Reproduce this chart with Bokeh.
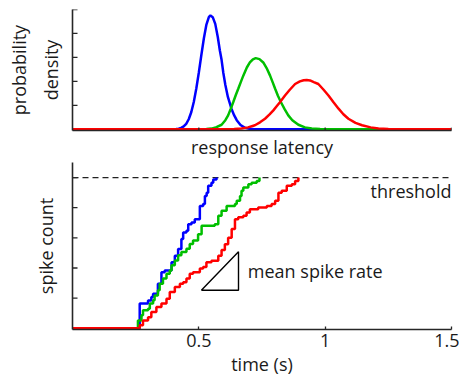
import math
from bokeh.plotting import figure
from bokeh.models import Range1d, FixedTicker, Label
from bokeh.layouts import column
from bokeh.embed import file_html
from bokeh.resources import INLINE

# ---------------- data: response-latency densities (top panel) ----------------
blue_lat = [0, 0.40, 0.41, 0.42, 0.43, 0.44, 0.45, 0.46, 0.47, 0.48, 0.49, 0.50, 0.51, 0.52, 0.53,
            0.54, 0.546, 0.555, 0.565, 0.575, 0.583, 0.59, 0.597, 0.605, 0.615, 0.629, 0.64, 0.65,
            0.665, 0.683, 0.70, 0.72, 1.5]
blue_dens = [0, 0.0, 0.01, 0.026, 0.057, 0.12, 0.23, 0.42, 0.71, 1.14, 1.70, 2.37, 3.10, 3.80, 4.37,
             4.69, 4.75, 4.68, 4.40, 3.85, 3.30, 2.90, 2.35, 1.85, 1.35, 0.86, 0.58, 0.38,
             0.18, 0.06, 0.02, 0.0, 0]

green_lat = [0, 0.50, 0.53, 0.55, 0.57, 0.59, 0.605, 0.616, 0.626, 0.636, 0.646, 0.656, 0.666, 0.676,
             0.69, 0.702, 0.714, 0.725, 0.74, 0.755, 0.77, 0.782, 0.792, 0.802, 0.813, 0.825, 0.84,
             0.854, 0.87, 0.894, 0.92, 0.947, 0.98, 1.02, 1.5]
green_dens = [0, 0.0, 0.01, 0.03, 0.09, 0.19, 0.38, 0.58, 0.85, 1.13, 1.42, 1.69, 1.97, 2.24,
              2.58, 2.79, 2.92, 2.97, 2.93, 2.79, 2.52, 2.24, 1.97, 1.69, 1.40, 1.13, 0.83,
              0.58, 0.38, 0.19, 0.08, 0.03, 0.01, 0.0, 0]

red_lat = [0, 0.60, 0.64, 0.669, 0.695, 0.722, 0.742, 0.762, 0.78, 0.795, 0.808, 0.821, 0.841, 0.86,
           0.881, 0.90, 0.915, 0.927, 0.94, 0.955, 0.973, 0.993, 1.013, 1.033, 1.053, 1.072, 1.092,
           1.12, 1.146, 1.18, 1.211, 1.25, 1.29, 1.5]
red_dens = [0, 0.0, 0.01, 0.03, 0.08, 0.17, 0.29, 0.44, 0.62, 0.79, 0.96, 1.13, 1.41, 1.65,
            1.89, 2.00, 2.05, 2.06, 2.04, 1.97, 1.89, 1.66, 1.41, 1.13, 0.86, 0.63, 0.44,
            0.27, 0.17, 0.08, 0.03, 0.01, 0.0, 0]

# ---------------- data: accumulated spike counts (bottom panel) ----------------
blue_t = [0, 0.253, 0.266, 0.288, 0.299, 0.312, 0.319, 0.338, 0.352, 0.365, 0.392, 0.405, 0.418,
          0.431, 0.438, 0.451, 0.458, 0.471, 0.484, 0.497, 0.504, 0.517, 0.524, 0.531, 0.537,
          0.550, 0.557, 0.570]
blue_count = [0, 0, 0.82, 0.82, 0.92, 1.04, 1.15, 1.48, 1.86, 1.92, 2.19, 2.41, 2.63,
              2.96, 3.18, 3.24, 3.45, 3.51, 3.62, 3.62, 4.06, 4.12, 4.39, 4.50, 4.73,
              4.83, 4.94, 5.0]

green_t = [0, 0.25, 0.259, 0.273, 0.279, 0.299, 0.306, 0.319, 0.325, 0.338, 0.345, 0.358, 0.372,
           0.385, 0.392, 0.405, 0.418, 0.431, 0.451, 0.464, 0.477, 0.497, 0.511, 0.563, 0.577,
           0.590, 0.610, 0.643, 0.650, 0.663, 0.669, 0.676, 0.696, 0.709, 0.729, 0.740]
green_count = [0, 0, 0.26, 0.43, 0.60, 0.65, 0.82, 0.93, 1.09, 1.26, 1.48, 1.65, 1.81,
               1.92, 2.09, 2.25, 2.42, 2.53, 2.64, 2.80, 2.91, 3.12, 3.40, 3.45, 3.73,
               3.90, 4.06, 4.12, 4.23, 4.39, 4.56, 4.67, 4.78, 4.83, 4.89, 5.0]

red_t = [0, 0.25, 0.266, 0.279, 0.299, 0.312, 0.332, 0.352, 0.372, 0.385, 0.405, 0.425, 0.438,
         0.451, 0.464, 0.477, 0.504, 0.517, 0.530, 0.550, 0.577, 0.590, 0.603, 0.616, 0.630,
         0.643, 0.656, 0.676, 0.689, 0.702, 0.735, 0.769, 0.788, 0.802, 0.815, 0.828, 0.848,
         0.868, 0.881, 0.894]
red_count = [0, 0, 0.10, 0.26, 0.37, 0.54, 0.71, 0.82, 0.98, 1.20, 1.37, 1.48, 1.53,
             1.65, 1.81, 1.86, 1.98, 2.03, 2.19, 2.24, 2.41, 2.60, 2.79, 3.00, 3.29,
             3.62, 3.68, 3.73, 3.84, 3.95, 4.01, 4.06, 4.12, 4.23, 4.50, 4.56, 4.73,
             4.78, 4.89, 5.0]

threshold = 5.0
time_ticks = [0.5, 1, 1.5]
time_tick_labels = ["0.5", "1", "1.5"]
latency_ticks = [0.5, 1, 1.5]
count_ticks = [1, 2, 3, 4, 5]
density_ticks = [1, 2, 3, 4, 5]

# "mean spike rate" slope triangle (data coordinates)
tri_t = [0.51, 0.657, 0.657, 0.51]
tri_count = [1.26, 1.26, 2.54, 1.26]

FONT = "Open Sans"
FS = "18px"
AX = "#262626"
TXT = "#1a1a1a"
BLUE, GREEN, RED = "#0000FF", "#00BF00", "#FF0000"


def base_style(p):
    p.xgrid.visible = False
    p.ygrid.visible = False
    p.outline_line_color = None
    p.background_fill_color = "white"
    p.border_fill_color = "white"
    for ax in p.axis:
        ax.axis_line_color = AX
        ax.axis_line_width = 1.6
        ax.major_tick_line_color = AX
        ax.major_tick_line_width = 1.3
        ax.minor_tick_line_color = None
        ax.major_tick_out = 0
        ax.axis_label_text_font = FONT
        ax.axis_label_text_font_size = FS
        ax.axis_label_text_font_style = "normal"
        ax.axis_label_text_color = TXT
        ax.major_label_text_font = FONT
        ax.major_label_text_font_size = FS
        ax.major_label_text_color = TXT


def inward_ticks_y(p, ticks):
    # unlabeled inward ticks on the left axis (half of each dash is clipped by the frame)
    p.scatter([p.x_range.start] * len(ticks), ticks, marker="dash", size=10,
              line_color=AX, line_width=1.3)


def inward_ticks_x(p, ticks):
    p.scatter(ticks, [p.y_range.start] * len(ticks), marker="dash", size=6, angle=math.pi / 2,
              line_color=AX, line_width=1.3)


# ---------------- top panel ----------------
p1 = figure(frame_width=379, frame_height=121,
            x_range=Range1d(0, 1.5), y_range=Range1d(-0.05, 5),
            min_border_left=72, min_border_right=8, min_border_top=9, min_border_bottom=30,
            output_backend="svg", toolbar_location=None)
base_style(p1)
p1.xaxis.ticker = FixedTicker(ticks=[])
p1.xaxis.axis_label = "response latency"
p1.xaxis.axis_label_standoff = 4
p1.yaxis.ticker = FixedTicker(ticks=[])
p1.yaxis.axis_label = "probability\ndensity"
p1.yaxis.axis_label_text_line_height = 1.3
p1.yaxis.axis_label_standoff = 10

p1.line(blue_lat, blue_dens, line_color=BLUE, line_width=2.5)
p1.line(green_lat, green_dens, line_color=GREEN, line_width=2.5)
p1.line(red_lat, red_dens, line_color=RED, line_width=2.5)
inward_ticks_y(p1, density_ticks)
inward_ticks_x(p1, latency_ticks)

# ---------------- bottom panel ----------------
p2 = figure(frame_width=379, frame_height=167,
            x_range=Range1d(0, 1.5), y_range=Range1d(-0.04, 5.5),
            min_border_left=72, min_border_right=8, min_border_top=1, min_border_bottom=40,
            output_backend="svg", toolbar_location=None)
base_style(p2)
p2.xaxis.ticker = FixedTicker(ticks=time_ticks)
p2.xaxis.major_label_overrides = {t: lab for t, lab in zip(time_ticks, time_tick_labels)}
p2.xaxis.major_tick_in = 3
p2.xaxis.major_label_standoff = 4
p2.xaxis.axis_label = "time (s)"
p2.xaxis.axis_label_standoff = 2
p2.yaxis.ticker = FixedTicker(ticks=[])
p2.yaxis.axis_label = "spike count"
p2.yaxis.axis_label_standoff = 15

p2.line([0, 1.5], [threshold, threshold], line_color="#222222", line_width=1.2, line_dash="6 4")
p2.step(blue_t, blue_count, mode="after", line_color=BLUE, line_width=2.5)
p2.step(green_t, green_count, mode="after", line_color=GREEN, line_width=2.5)
p2.step(red_t, red_count, mode="after", line_color=RED, line_width=2.5)
p2.line(tri_t, tri_count, line_color="black", line_width=1.4)
inward_ticks_y(p2, count_ticks)

p2.add_layout(Label(x=1.5, y=4.54, text="threshold", text_align="right", text_baseline="middle",
                    text_font=FONT, text_font_size=FS, text_color=TXT))
p2.add_layout(Label(x=0.694, y=1.89, text="mean spike rate", text_align="left",
                    text_baseline="middle", text_font=FONT, text_font_size=FS,
                    text_color=TXT))

layout = column(p1, p2)
open("out.html", "w").write(file_html(layout, INLINE))
